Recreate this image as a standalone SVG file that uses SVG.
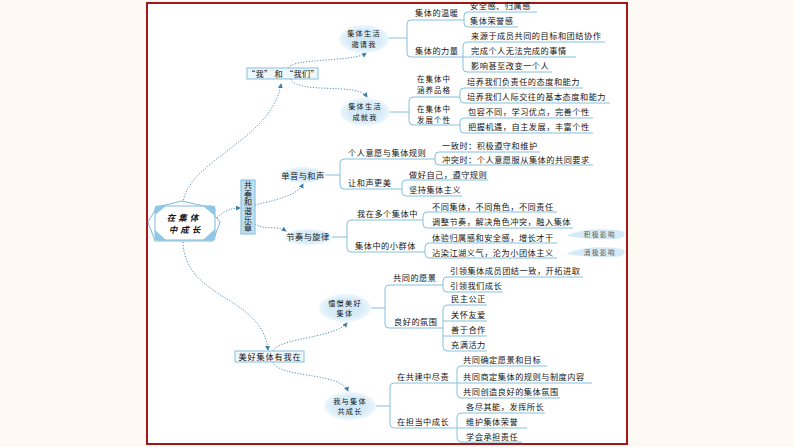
<svg xmlns="http://www.w3.org/2000/svg" width="794" height="447" viewBox="0 0 794 447">
<defs>
<style>
.t{font-family:"Noto Sans CJK SC","Noto Sans",sans-serif;font-size:8.2px;fill:#151515;letter-spacing:0.5px}
.m{text-anchor:middle}
.e2{font-size:7.2px;letter-spacing:1.2px}
.l2{font-size:7.5px;letter-spacing:1px}
.ln{fill:none;stroke:#86c0dc;stroke-width:1}
.dot{fill:none;stroke:#5a8fb2;stroke-width:1;stroke-dasharray:1.2 1.6;marker-end:url(#ar)}
.ell{fill:url(#eg)}
.box{fill:#eef7fc;stroke:#86c0dc;stroke-width:1}
.note{font-family:"Noto Sans CJK SC","Noto Sans",sans-serif;font-size:6.5px;fill:#555;letter-spacing:1.6px;text-anchor:middle}
.blob{fill:#d6ebf7}
.corner{fill:#8fc7e6}
</style>
<radialGradient id="eg" cx="50%" cy="50%" r="50%">
<stop offset="0" stop-color="#cfe6f5"/>
<stop offset="0.7" stop-color="#d9edf8"/>
<stop offset="1" stop-color="#eef7fc"/>
</radialGradient>
<marker id="ar" viewBox="0 0 6 6" refX="5" refY="3" markerWidth="5" markerHeight="5" orient="auto" markerUnits="userSpaceOnUse">
<path d="M0,0 L6,3 L0,6 z" fill="#3f7ea6"/>
</marker>
</defs>
<rect x="0" y="0" width="794" height="447" fill="#fef9f2"/>
<rect x="147" y="3" width="480" height="441" fill="#ffffff" stroke="#a3161a" stroke-width="2"/>

<g id="connectors">
<path class="dot" d="M183,203 C188,160 272,140 281,84"/>
<path class="dot" d="M288,68 C292,58 355,62 366,53"/>
<path class="dot" d="M290,79 C300,95 358,82 367,97"/>
<path class="dot" d="M217,218 C225,210 232,208 240,208"/>
<path class="dot" d="M255,205 C275,200 297,196 303,184"/>
<path class="dot" d="M253,222 C262,232 275,224 286,231"/>
<path class="dot" d="M183,242 C185,300 262,295 268,350"/>
<path class="dot" d="M273,351 C278,338 335,338 347,323"/>
<path class="dot" d="M273,362 C278,378 340,372 348,391"/>

<path class="ln" d="M387,38 H407"/>
<path class="ln" d="M464,20 H411 Q407,20 407,24 V53 Q407,57 411,57 H463"/>
<path class="ln" d="M537,12 H468 Q464,12 464,16 V23 Q464,27 468,27 H518"/>
<path class="ln" d="M605,42 H467 Q463,42 463,46 V68 Q463,72 467,72 H552"/>
<path class="ln" d="M463,57 H576"/>

<path class="ln" d="M389,112 H409"/>
<path class="ln" d="M460,97 H413 Q409,97 409,101 V121 Q409,125 413,125 H460"/>
<path class="ln" d="M583,88 H464 Q460,88 460,92 V99 Q460,103 464,103 H610"/>
<path class="ln" d="M593,118 H464 Q460,118 460,122 V129 Q460,133 464,133 H593"/>

<path class="ln" d="M325,175 H340"/>
<path class="ln" d="M435,159 H344 Q340,159 340,163 V185 Q340,189 344,189 H402"/>
<path class="ln" d="M540,152 H439 Q435,152 435,156 V161 Q435,165 439,165 H593"/>
<path class="ln" d="M488,180 H406 Q402,180 402,184 V192 Q402,196 406,196 H462"/>

<path class="ln" d="M332,237 H347"/>
<path class="ln" d="M423,220 H351 Q347,220 347,224 V248 Q347,252 351,252 H425"/>
<path class="ln" d="M557,212 H427 Q423,212 423,216 V224 Q423,228 427,228 H573"/>
<path class="ln" d="M557,243 H429 Q425,243 425,247 V254 Q425,258 429,258 H557"/>

<path class="ln" d="M371,308 H385"/>
<path class="ln" d="M443,285 H389 Q385,285 385,289 V324 Q385,328 389,328 H443"/>
<path class="ln" d="M583,277 H447 Q443,277 443,281 V288 Q443,292 447,292 H503"/>
<path class="ln" d="M487,305 H447 Q443,305 443,309 V347 Q443,351 447,351 H487"/>
<path class="ln" d="M443,321 H487 M443,336 H487"/>

<path class="ln" d="M376,406 H390"/>
<path class="ln" d="M457,383 H394 Q390,383 390,387 V424 Q390,428 394,428 H457"/>
<path class="ln" d="M547,366 H461 Q457,366 457,370 V394 Q457,398 461,398 H560"/>
<path class="ln" d="M457,383 H592"/>
<path class="ln" d="M545,413 H461 Q457,413 457,417 V438 Q457,442 461,442 H522"/>
<path class="ln" d="M457,428 H527"/>
</g>

<g id="node-center">
<polygon points="148,222 157,207 182,201 208,207 220,222 213,241 155,241" fill="#ffffff" stroke="#7fb9d8" stroke-width="1"/>
<rect x="155" y="206" width="60" height="34" rx="3" fill="#ffffff" stroke="#7fb9d8" stroke-width="1"/>
<polygon class="corner" points="155,206 166,206 155,215"/>
<polygon class="corner" points="215,206 203,206 215,216"/>
<polygon class="corner" points="155,240 155,230 166,240"/>
<polygon class="corner" points="215,240 215,229 203,240"/>
<text class="t m" x="184" y="220.5" style="font-size:8.5px;font-weight:bold;font-style:italic;letter-spacing:3px">在集体</text>
<text class="t m" x="186" y="233.3" style="font-size:8.5px;font-weight:bold;font-style:italic;letter-spacing:3px">中成长</text>
</g>

<g id="node-women">
<rect class="box" x="247" y="68" width="71" height="11"/>
<text class="t m" x="283" y="77" style="letter-spacing:0.3px">“我” 和 “我们”</text>
</g>

<g id="node-yaoqing">
<ellipse class="ell" cx="364" cy="39" rx="25" ry="14"/>
<text class="t m e2" x="364" y="36">集体生活</text>
<text class="t m e2" x="364" y="46.6">邀请我</text>
</g>
<g id="node-yaoqing-items">
<text class="t" x="415" y="16">集体的温暖</text>
<text class="t" x="415" y="54">集体的力量</text>
<text class="t" x="470" y="9">安全感、归属感</text>
<text class="t" x="470" y="24">集体荣誉感</text>
<text class="t" x="471" y="38.5">来源于成员共同的目标和团结协作</text>
<text class="t" x="471" y="54">完成个人无法完成的事情</text>
<text class="t" x="471" y="69">影响甚至改变一个人</text>
</g>

<g id="node-chengjiu">
<ellipse class="ell" cx="365" cy="112" rx="25" ry="14"/>
<text class="t m e2" x="365" y="109">集体生活</text>
<text class="t m e2" x="365" y="119.6">成就我</text>
</g>
<g id="node-chengjiu-items">
<text class="t l2" x="417" y="82">在集体中</text>
<text class="t l2" x="417" y="93">涵养品格</text>
<text class="t l2" x="417" y="112">在集体中</text>
<text class="t l2" x="417" y="123">发展个性</text>
<text class="t" x="467" y="84.5">培养我们负责任的态度和能力</text>
<text class="t" x="467" y="99.5">培养我们人际交往的基本态度和能力</text>
<text class="t" x="468" y="115">包容不同，学习优点，完善个性</text>
<text class="t" x="468" y="130">把握机遇，自主发展，丰富个性</text>
</g>

<g id="node-gongzou">
<rect x="241" y="180" width="14" height="54" fill="#bfe0f2" stroke="#7fbcd9" stroke-width="1"/>
<text class="t m" x="248" y="207" style="writing-mode:vertical-rl;font-size:8px;letter-spacing:0.6px">共奏和谐乐章</text>
</g>

<g id="node-danyin">
<ellipse class="ell" cx="303" cy="175" rx="23" ry="8"/>
<text class="t m" x="303" y="178.5">单音与和声</text>
</g>
<g id="node-danyin-items">
<text class="t" x="348" y="156">个人意愿与集体规则</text>
<text class="t" x="348" y="186">让和声更美</text>
<text class="t" x="442" y="149">一致时：积极遵守和维护</text>
<text class="t" x="442" y="163">冲突时：个人意愿服从集体的共同要求</text>
<text class="t" x="409" y="177.5">做好自己，遵守规则</text>
<text class="t" x="409" y="193">坚持集体主义</text>
</g>

<g id="node-jiezou">
<ellipse class="ell" cx="308" cy="237" rx="24" ry="8"/>
<text class="t m" x="308" y="240">节奏与旋律</text>
</g>
<g id="node-jiezou-items">
<text class="t" x="357" y="217">我在多个集体中</text>
<text class="t" x="355" y="249">集体中的小群体</text>
<text class="t" x="432" y="209.5">不同集体，不同角色，不同责任</text>
<text class="t" x="432" y="225">调整节奏，解决角色冲突，融入集体</text>
<text class="t" x="432" y="240.5">体验归属感和安全感，增长才干</text>
<text class="t" x="432" y="256">沾染江湖义气，沦为小团体主义</text>
</g>

<g id="note-jiji">
<path class="blob" d="M566,236 C580,228 610,228 622,231 C628,234 624,239 614,239 C598,240 580,238 566,236 Z"/>
<text class="note" x="600" y="236.5">积极影响</text>
</g>
<g id="note-xiaoji">
<path class="blob" d="M566,254 C580,246 610,246 622,249 C628,252 624,257 614,257 C598,258 580,256 566,254 Z"/>
<text class="note" x="600" y="254.5">消极影响</text>
</g>

<g id="node-meihao">
<rect class="box" x="235" y="351" width="69" height="11"/>
<text class="t m" x="270" y="360" style="letter-spacing:0.8px">美好集体有我在</text>
</g>

<g id="node-chongjing">
<ellipse class="ell" cx="345" cy="308" rx="26" ry="14"/>
<text class="t m e2" x="345" y="305.5">憧憬美好</text>
<text class="t m e2" x="345" y="316.1">集体</text>
</g>
<g id="node-chongjing-items">
<text class="t" x="393" y="280.5">共同的愿景</text>
<text class="t" x="394" y="325">良好的氛围</text>
<text class="t" x="450" y="273.5">引领集体成员团结一致，开拓进取</text>
<text class="t" x="450" y="288.5">引领我们成长</text>
<text class="t" x="451" y="302">民主公正</text>
<text class="t" x="451" y="317.5">关怀友爱</text>
<text class="t" x="451" y="333">善于合作</text>
<text class="t" x="451" y="347.5">充满活力</text>
</g>

<g id="node-gongcheng">
<ellipse class="ell" cx="350" cy="406" rx="26" ry="14"/>
<text class="t m e2" x="350" y="403.5">我与集体</text>
<text class="t m e2" x="350" y="414.1">共成长</text>
</g>
<g id="node-gongcheng-items">
<text class="t" x="397" y="379.5">在共建中尽责</text>
<text class="t" x="397" y="425">在担当中成长</text>
<text class="t" x="463" y="363">共同确定愿景和目标</text>
<text class="t" x="463" y="380">共同商定集体的规则与制度内容</text>
<text class="t" x="463" y="395">共同创造良好的集体氛围</text>
<text class="t" x="466" y="410">各尽其能，发挥所长</text>
<text class="t" x="466" y="425">维护集体荣誉</text>
<text class="t" x="466" y="440">学会承担责任</text>
</g>
</svg>
